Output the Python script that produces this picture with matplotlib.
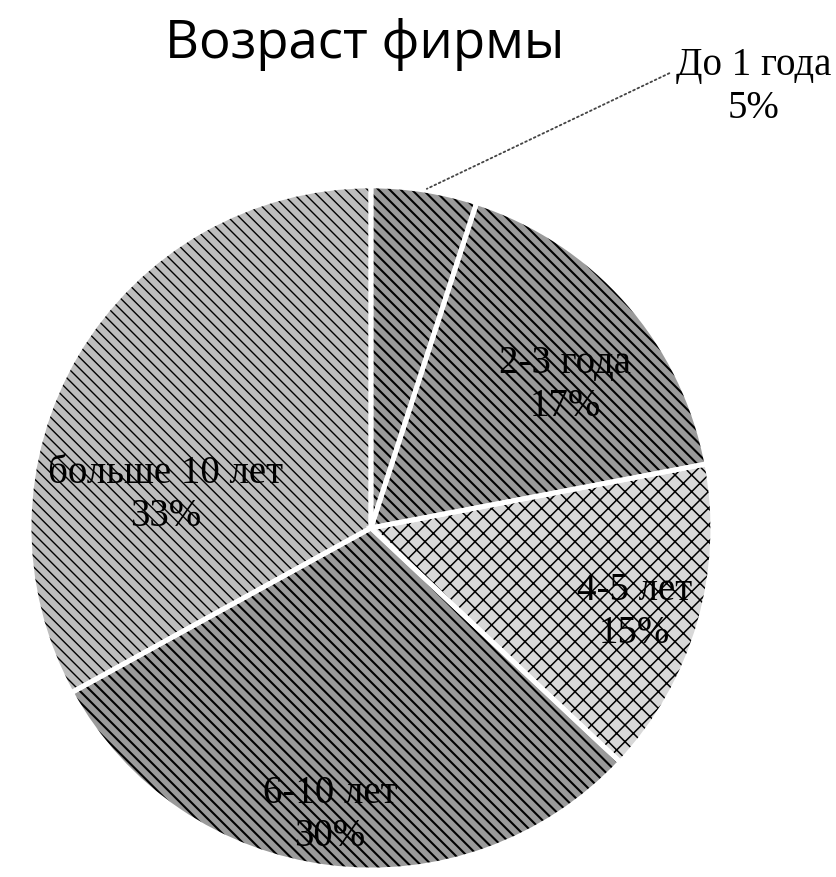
import matplotlib.pyplot as plt
import matplotlib as mpl

# Data
labels = ["До 1 года", "2-3 года", "4-5 лет", "6-10 лет", "больше 10 лет"]
shares = [5, 17, 15, 30, 33]

# Styles (grey hatching like the scanned original)
faces = ["#9a9a9a", "#9a9a9a", "#d8d8d8", "#9a9a9a", "#bdbdbd"]
hatches = ["\\\\\\", "\\\\\\", "xx", "\\\\\\", "\\\\\\"]
hatch_lw = [1.5, 1.5, 1.1, 1.5, 1.0]
# label positions (x, y in pie units), placed by hand like the original
label_pos = [(1.12, 1.29), (0.567, 0.418), (0.77, -0.246), (-0.12, -0.839), (-0.60, 0.096)]

mpl.rcParams["hatch.linewidth"] = 1.3
mpl.rcParams["hatch.color"] = "black"

fig = plt.figure(figsize=(8.37, 8.77), dpi=100)
ax = fig.add_axes([0.0347, 0.008, 0.817, 0.780])

wedges, _ = ax.pie(shares, startangle=90, counterclock=False, radius=1,
                   colors=faces, wedgeprops=dict(linewidth=0))
for w, h, lw in zip(wedges, hatches, hatch_lw):
    w.set_hatch(h)
    w.set_edgecolor("black")
    if hasattr(w, "set_hatch_linewidth"):
        w.set_hatch_linewidth(lw)

# white separators on top
ax.pie(shares, startangle=90, counterclock=False, radius=1,
       colors=["none"] * len(shares),
       wedgeprops=dict(edgecolor="white", linewidth=3.5, fill=False))

ax.set_xlim(-1, 1)
ax.set_ylim(-1, 1)
ax.set_aspect("auto")
ax.axis("off")

for i, (name, v) in enumerate(zip(labels, shares)):
    x, y = label_pos[i]
    ax.text(x, y, f"{name}\n{v}%", ha="center", va="center",
            fontsize=28, family="Liberation Serif", color="black",
            linespacing=1.2, clip_on=False)

# leader line for the small slice
ax.annotate("", xy=(0.156, 0.988), xytext=(0.88, 1.333),
            arrowprops=dict(arrowstyle="-", linestyle=":", color="#444444", lw=1.3),
            annotation_clip=False)

fig.text(0.436, 0.950, "Возраст фирмы", ha="center", va="center",
         fontsize=38, family="Open Sans", color="black")

fig.savefig("out.png", dpi=100)
